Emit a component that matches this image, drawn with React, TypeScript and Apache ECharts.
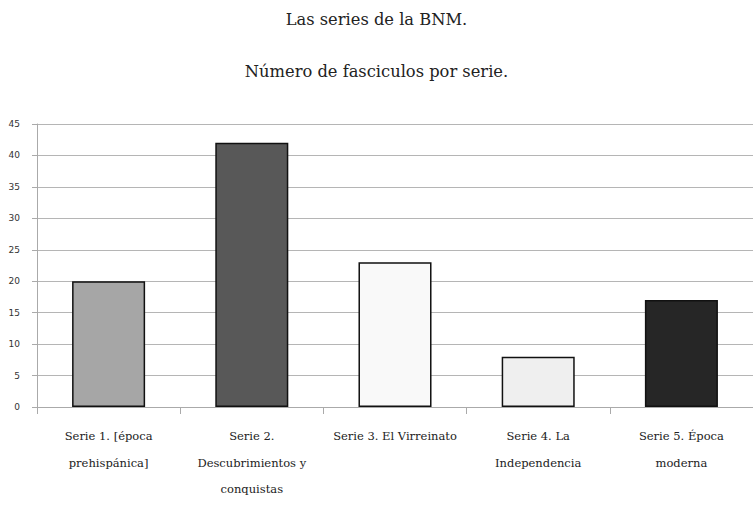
import React, { useEffect, useRef } from "react";
import * as echarts from "echarts";

const titleText = "Las series de la BNM.";
const subtitleText = "Número de fasciculos por serie.";
const categories = [
  "Serie 1. [época prehispánica]",
  "Serie 2. Descubrimientos y conquistas",
  "Serie 3. El Virreinato",
  "Serie 4. La Independencia",
  "Serie 5. Época moderna",
];
const categoryLabels = [
  "Serie 1. [época\nprehispánica]",
  "Serie 2.\nDescubrimientos y\nconquistas",
  "Serie 3. El Virreinato",
  "Serie 4. La\nIndependencia",
  "Serie 5. Época\nmoderna",
];
const values = [20, 42, 23, 8, 17];
const barColors = ["#a6a6a6", "#585858", "#f9f9f9", "#efefef", "#262626"];

export default function App() {
  const ref = useRef<HTMLDivElement>(null);
  useEffect(() => {
    if (!ref.current) return;
    const chart = echarts.init(ref.current, null, { renderer: "svg" });
    const font = "'DejaVu Serif', 'Liberation Serif', serif";
    chart.setOption({
      animation: false,
      backgroundColor: "#ffffff",
      title: [
        {
          text: titleText,
          left: "center",
          top: 6,
          textStyle: { fontFamily: font, fontSize: 16.3, fontWeight: "normal", color: "#222" },
        },
        {
          text: subtitleText,
          left: "center",
          top: 58,
          textStyle: { fontFamily: font, fontSize: 16.3, fontWeight: "normal", color: "#222" },
        },
      ],
      grid: { left: 37, right: 0, top: 124, bottom: 104, containLabel: false },
      xAxis: {
        type: "category",
        data: categories,
        axisLine: { show: true, lineStyle: { color: "#aaaaaa", width: 1 } },
        axisTick: { show: true, length: 7, lineStyle: { color: "#aaaaaa" } },
        axisLabel: {
          interval: 0,
          margin: 16,
          fontFamily: font,
          fontSize: 11.5,
          color: "#222",
          lineHeight: 26.5,
          formatter: (_v: string, i: number) => categoryLabels[i],
        },
      },
      yAxis: {
        type: "value",
        min: 0,
        max: 45,
        interval: 5,
        axisLine: { show: true, lineStyle: { color: "#aaaaaa", width: 1 } },
        axisTick: { show: true, length: 5, lineStyle: { color: "#aaaaaa" } },
        splitLine: { show: true, lineStyle: { color: "#b5b5b5", width: 1 } },
        axisLabel: {
          margin: 17,
          fontFamily: "'DejaVu Sans', sans-serif",
          fontSize: 9,
          color: "#333",
        },
      },
      series: [
        {
          type: "bar",
          barWidth: "51%",
          data: values.map((v, i) => ({
            value: v,
            itemStyle: { color: barColors[i], borderColor: "#111", borderWidth: 1.5 },
          })),
        },
      ],
    });
    return () => chart.dispose();
  }, []);
  return (
    <div
      ref={ref}
      style={{ position: "fixed", left: 0, top: 0, width: 753, height: 511 }}
    />
  );
}
